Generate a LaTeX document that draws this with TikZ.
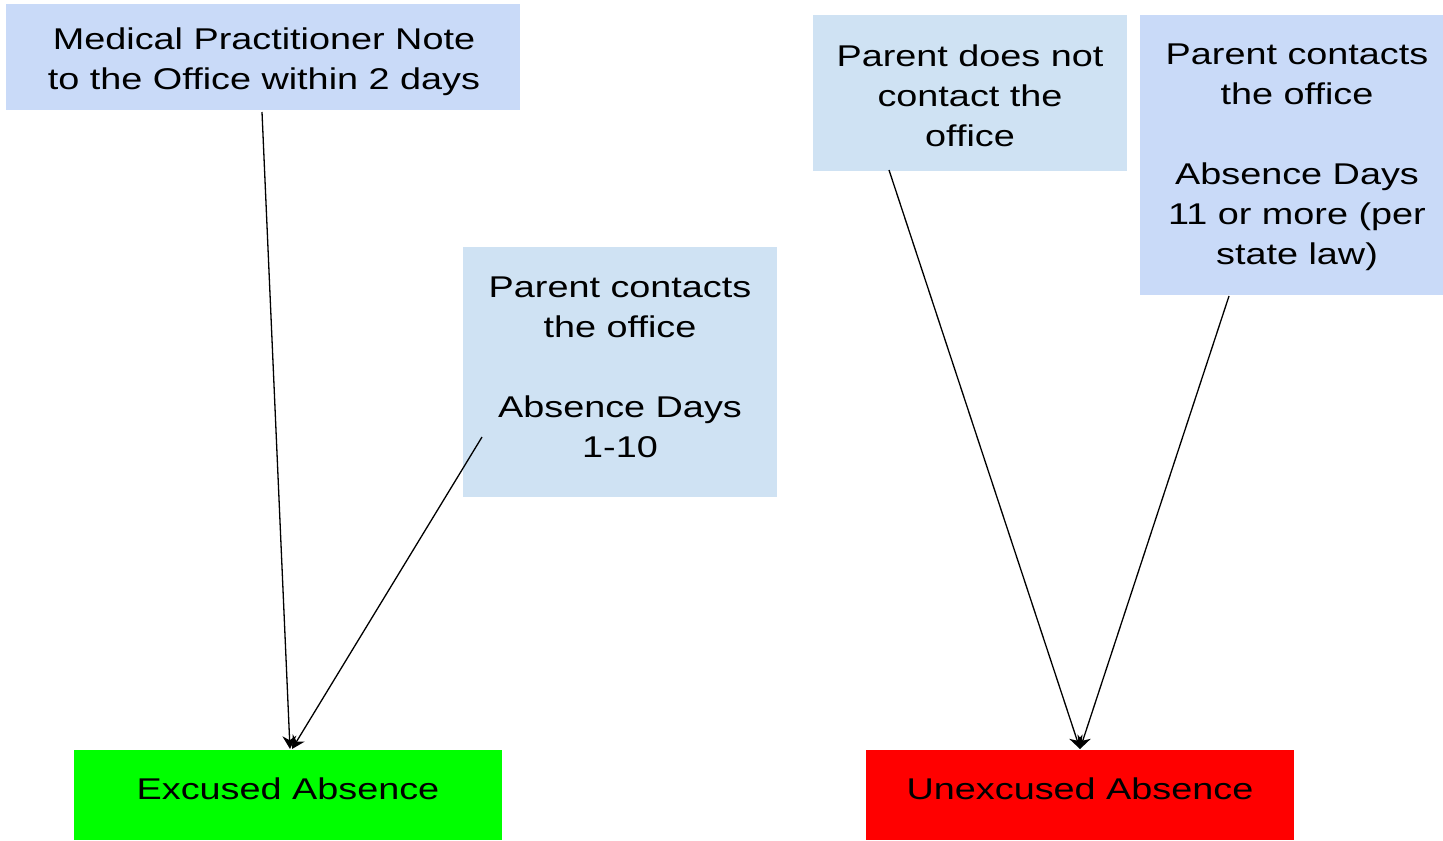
\documentclass[tikz,border=0pt]{standalone}
\usepackage{fontspec}
\setmainfont{Liberation Sans}[FakeStretch=1.26]
\usetikzlibrary{arrows.meta,calc}
\definecolor{cornflower}{HTML}{C9DAF8}
\definecolor{lightblue}{HTML}{CFE2F3}
\definecolor{brightgreen}{HTML}{00FF00}
\definecolor{brightred}{HTML}{FF0000}
\begin{document}
\begin{tikzpicture}[x=0.5pt,y=-0.5pt,
  box/.style={draw=none,inner sep=0pt,outer sep=0pt},
  txt/.style={align=center,inner sep=0pt,font=\fontsize{15pt}{20pt}\selectfont,text=black},
  conn/.style={line width=0.65pt,-{Stealth[length=6.5pt,width=7pt]}}]
\useasboundingbox (0,0) rectangle (1443,840);
% boxes
\node[box,fill=cornflower,minimum width=257pt,minimum height=53pt] (med) at (263,57) {};
\node[box,fill=lightblue,minimum width=157pt,minimum height=125pt] (pc1) at (620,372) {};
\node[box,fill=lightblue,minimum width=157pt,minimum height=78pt] (pnc) at (970,93) {};
\node[box,fill=cornflower,minimum width=151.5pt,minimum height=140pt] (pc2) at (1291.5,155) {};
\node[box,fill=brightgreen,minimum width=214pt,minimum height=45pt] (exc) at (288,795) {};
\node[box,fill=brightred,minimum width=214pt,minimum height=45pt] (unx) at (1080,795) {};
% texts
\node[txt] (medt) at (264,62) {Medical Practitioner Note\\to the Office within 2 days};
\node[txt] (pc1t) at (620,367) {Parent contacts\\the office\\[20pt]Absence Days\\1-10};
\node[txt] (pnct) at (970,96) {Parent does not\\contact the\\office};
\node[txt] (pc2t) at (1297,157) {Parent contacts\\the office\\[20pt]Absence Days\\11 or more (per\\state law)};
\node[txt] (exct) at (288,789) {Excused Absence};
\node[txt] (unxt) at (1080,789) {Unexcused Absence};
% connector points
\coordinate (s1) at (262,112);
\coordinate (s2) at (482,437);
\coordinate (s3) at (889,170);
\coordinate (s4) at (1229,296);
\coordinate (e1) at (290,749);
\coordinate (e2) at (292,749);
\coordinate (e3) at (1080,749);
\draw[conn] (s1) -- (e1);
\draw[conn] (s2) -- (e2);
\draw[conn] (s3) -- (e3);
\draw[conn] (s4) -- (e3);
\end{tikzpicture}
\end{document}
